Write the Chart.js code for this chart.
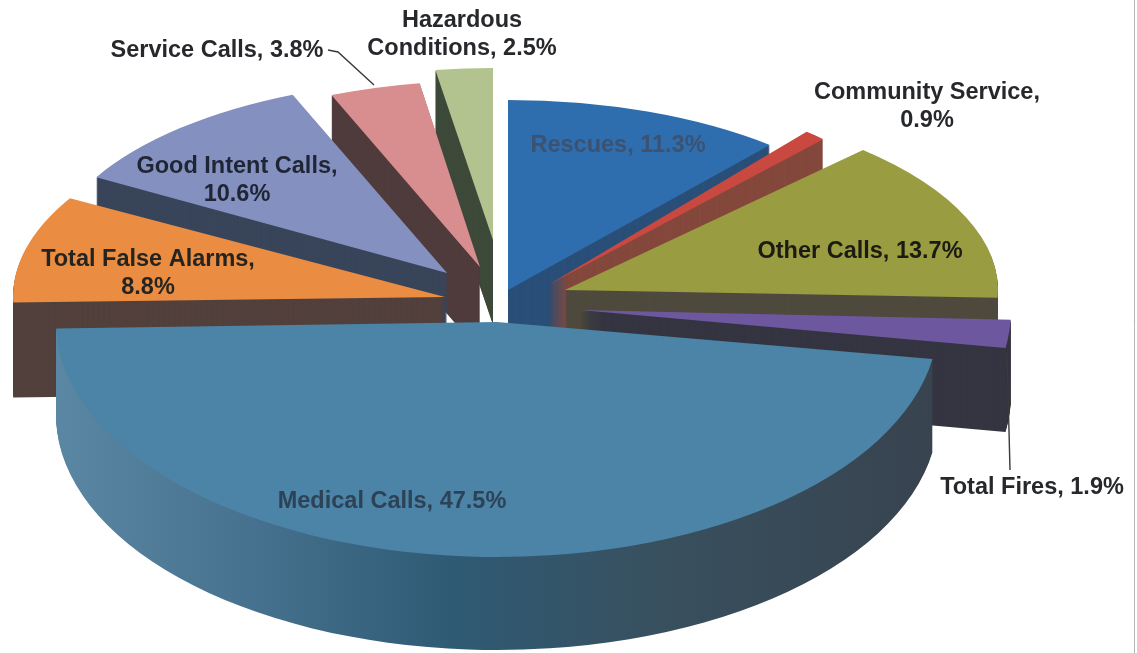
<!DOCTYPE html>
<html>
<head>
<meta charset="utf-8">
<title>Calls by type</title>
<script src="https://cdn.jsdelivr.net/npm/chart.js@4"></script>
<style>
  html, body { margin: 0; padding: 0; background: #fff; }
  canvas { display: block; }
</style>
</head>
<body>
<canvas id="myChart" width="1137" height="653"></canvas>
<script>
const categories = ["Rescues", "Community Service", "Other Calls", "Total Fires", "Medical Calls",
  "Total False Alarms", "Good Intent Calls", "Service Calls", "Hazardous Conditions"];
const shares = [11.3, 0.9, 13.7, 1.9, 47.5, 8.8, 10.6, 3.8, 2.5];

const topColors = ["#2f6eae", "#c9483f", "#9a9c41", "#6d58a0", "#4b84a6", "#ea8d43", "#8491c0", "#d88d8f", "#b3c38f"];
const wallColors = ["#2a4f78", "#84483c", "#4e4a3d", "#353542", null, "#52403c", "#39455a", "#4f3b3b", "#3e4a3a"];

// each slice sits on its own ellipse: tip x, tip y, x radius, y radius, wall height
const frames = [
  [508, 290, 405, 190, 85],
  [548, 285, 400, 201, 85],
  [565, 290, 433, 193, 85],
  [580, 310, 431, 240, 84],
  [497, 322, 441, 235, 93],
  [445, 297, 432, 199, 95],
  [447, 273, 404, 193, 85],
  [480, 267, 389, 186, 85],
  [493, 240, 372, 172, 85],
];
const drawOrder = [8, 7, 6, 0, 1, 2, 5, 3, 4];

const labelLines = [
  ["Rescues, 11.3%"],
  ["Community Service,", "0.9%"],
  ["Other Calls, 13.7%"],
  ["Total Fires, 1.9%"],
  ["Medical Calls, 47.5%"],
  ["Total False Alarms,", "8.8%"],
  ["Good Intent Calls,", "10.6%"],
  ["Service Calls, 3.8%"],
  ["Hazardous", "Conditions, 2.5%"],
];
const labelSpots = [[618, 152], [927, 99], [860, 258], [1032, 494], [392, 508], [148, 266], [237, 173], [217, 57], [462, 27]];
const labelColors = ["#3c5270", "#26282c", "#1b1b14", "#26282c", "#2d4257", "#26241f", "#1f2534", "#26282c", "#26282c"];
const leaders = [
  [[328, 50], [338, 52], [374, 85]],
  [[1007, 352], [1010, 470]],
];

function medicalWall(ctx, el) {
  const r = el.outerRadius;
  const g = ctx.createLinearGradient(el.x - r, 0, el.x + r, 0);
  g.addColorStop(0, "#5a87a3");
  g.addColorStop(0.22, "#47728f");
  g.addColorStop(0.45, "#2f5a74");
  g.addColorStop(0.68, "#38505f");
  g.addColorStop(1, "#38434f");
  return g;
}

function paintSlice(ctx, el, frame, fill, dy) {
  const saved = el.options;
  const opts = Object.create(saved);
  opts.backgroundColor = fill;
  el.options = opts;
  ctx.save();
  ctx.translate(frame[0], frame[1] + dy);
  ctx.scale(frame[2] / el.outerRadius, frame[3] / el.outerRadius);
  ctx.translate(-el.x, -el.y);
  el.draw(ctx);
  ctx.restore();
  el.options = saved;
}

const pie3d = {
  id: "pie3d",
  beforeDatasetsDraw(chart) {
    const ctx = chart.ctx;
    const arcs = chart.getDatasetMeta(0).data;
    drawOrder.forEach((i) => {
      const frame = frames[i];
      const wall = wallColors[i] || medicalWall(ctx, arcs[i]);
      for (let dy = frame[4]; dy > 0; dy--) {
        paintSlice(ctx, arcs[i], frame, wall, dy);
      }
      paintSlice(ctx, arcs[i], frame, topColors[i], 0);
    });
    return false;
  },
  afterDraw(chart) {
    const ctx = chart.ctx;
    ctx.save();
    ctx.strokeStyle = "#3a3a3a";
    ctx.lineWidth = 1.4;
    leaders.forEach((pts) => {
      ctx.beginPath();
      pts.forEach((p, n) => (n ? ctx.lineTo(p[0], p[1]) : ctx.moveTo(p[0], p[1])));
      ctx.stroke();
    });
    ctx.strokeStyle = "#b5b5b5";
    ctx.lineWidth = 1;
    ctx.beginPath();
    ctx.moveTo(1134.5, 0);
    ctx.lineTo(1134.5, 653);
    ctx.stroke();

    ctx.font = 'bold 23.5px "Liberation Sans", Arial, sans-serif';
    ctx.textAlign = "center";
    ctx.textBaseline = "alphabetic";
    labelLines.forEach((lines, i) => {
      ctx.fillStyle = labelColors[i];
      lines.forEach((line, n) => {
        ctx.fillText(line, labelSpots[i][0], labelSpots[i][1] + n * 28);
      });
    });
    ctx.restore();
  },
};

new Chart(document.getElementById("myChart").getContext("2d"), {
  type: "pie",
  data: {
    labels: categories,
    datasets: [{ data: shares, backgroundColor: topColors, borderWidth: 0 }],
  },
  options: {
    responsive: false,
    animation: false,
    plugins: { legend: { display: false }, tooltip: { enabled: false } },
  },
  plugins: [pie3d],
});
</script>
</body>
</html>
